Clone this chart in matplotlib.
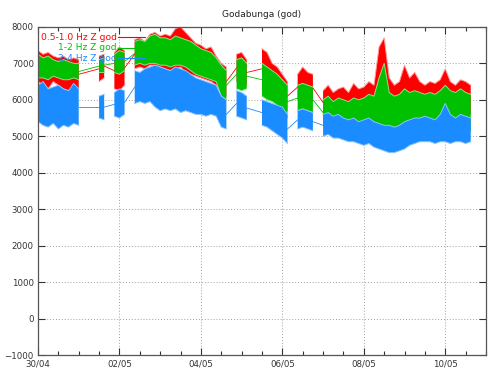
import numpy as np
import matplotlib
matplotlib.use("Agg")
import matplotlib.pyplot as plt

# sample times: days since 30/04 00:00, every 3 hours
step = 0.125
days = np.arange(0, 10.625 + step / 2, step)

N = None
# 0.5-1.0 Hz band (red)
red_hi = [7350, 7250, 7300, 7200, 7150, 7200, 7100, 7150, 7100, N, N, N,
          7200, 7250, N, 7300, 7450, 7350, N,
          7650, 7700, 7600, 7800, 7850, 7750, 7800, 7750, 7950, 8000, 7850, 7700, 7550, 7500, 7400, 7450, 7200, 7000, 6900,
          N, 7250, 7300, 7100, N, N,
          7400, 7300, 7000, 6900, 6700, 6500, N,
          6700, 6900, 6750, 6700, N,
          6250, 6400, 6200, 6300, 6350, 6200, 6450, 6300, 6350, 6500, 6400, 7450, 7700, 6600, 6400,
          6500, 6950, 6600, 6750, 6500, 6400, 6500, 6450, 6550, 6850, 6500, 6400, 6550, 6500, 6400]
red_lo = [6500, 6400, 6300, 6500, 6400, 6300, 6250, 6350, 6300, N, N, N,
          6500, 6600, N, 6300, 6250, 6400, N,
          6850, 6900, 6850, 6950, 6950, 6900, 6850, 6800, 6850, 6900, 6750, 6700, 6650, 6600, 6550, 6500, 6400, 6200, 6100,
          N, 6500, 6450, 6400, N, N,
          6300, 6200, 6100, 6000, 5900, 5700, N,
          6000, 6050, 6000, 5950, N,
          5600, 5650, 5550, 5600, 5550, 5500, 5550, 5500, 5450, 5500, 5450, 5450, 5400, 5350, 5350,
          5400, 5450, 5500, 5500, 5550, 5550, 5600, 5550, 5600, 5600, 5550, 5550, 5600, 5550, 5600]
# 1-2 Hz band (green)
green_hi = [7250, 7150, 7200, 7100, 7050, 7100, 7050, 7000, 7000, N, N, N,
            7100, 7150, N, 7250, 7350, 7300, N,
            7600, 7650, 7600, 7750, 7800, 7700, 7700, 7650, 7750, 7700, 7650, 7600, 7500, 7400, 7350, 7300, 7150, 6950, 6800,
            N, 7100, 7150, 7000, N, N,
            7000, 6900, 6800, 6700, 6550, 6400, N,
            6400, 6450, 6400, 6350, N,
            6000, 6100, 5950, 6050, 6000, 5950, 6050, 6000, 6050, 6150, 6100, 6600, 7000, 6200, 6100,
            6150, 6300, 6200, 6250, 6200, 6150, 6200, 6150, 6250, 6400, 6250, 6200, 6300, 6200, 6150]
green_lo = [6600, 6600, 6550, 6650, 6600, 6550, 6550, 6600, 6550, N, N, N,
            6750, 6750, N, 6750, 6700, 6800, N,
            6950, 7000, 6950, 7000, 7000, 6950, 6950, 6900, 6950, 6950, 6900, 6800, 6700, 6650, 6600, 6550, 6500, 6100, 6000,
            N, 6300, 6250, 6300, N, N,
            6100, 6000, 5950, 5850, 5700, 5500, N,
            5700, 5750, 5700, 5650, N,
            5300, 5350, 5250, 5300, 5200, 5200, 5150, 5100, 5100, 5100, 5050, 5000, 5000, 4950, 4950,
            5000, 5050, 5100, 5100, 5150, 5150, 5200, 5150, 5200, 5200, 5150, 5150, 5200, 5150, 5150]
# 2-4 Hz band (blue)
blue_hi = [6400, 6500, 6300, 6350, 6400, 6300, 6250, 6450, 6300, N, N, N,
           6100, 6150, N, 6200, 6300, 6250, N,
           6800, 6750, 6850, 6900, 6950, 6900, 6850, 6800, 6900, 6850, 6800, 6700, 6600, 6550, 6500, 6450, 6400, 6100, 6000,
           N, 6250, 6200, 6100, N, N,
           6000, 5950, 5900, 5850, 5800, 5600, N,
           5700, 5750, 5700, 5650, N,
           5600, 5650, 5550, 5600, 5500, 5450, 5500, 5400, 5450, 5500, 5400, 5350, 5300, 5300, 5250,
           5300, 5400, 5450, 5500, 5500, 5550, 5500, 5450, 5600, 5900, 5600, 5500, 5600, 5550, 5500]
blue_lo = [5400, 5300, 5250, 5350, 5200, 5300, 5250, 5350, 5300, N, N, N,
           5500, 5450, N, 5550, 5500, 5600, N,
           5900, 5950, 5900, 5950, 5800, 5700, 5750, 5700, 5750, 5650, 5700, 5650, 5600, 5600, 5550, 5600, 5550, 5250, 5200,
           N, 5550, 5500, 5450, N, N,
           5300, 5250, 5150, 5050, 4950, 4800, N,
           5200, 5250, 5200, 5150, N,
           5000, 5050, 4950, 4950, 4900, 4850, 4850, 4800, 4750, 4800, 4700, 4650, 4600, 4550, 4550,
           4600, 4650, 4750, 4800, 4850, 4850, 4850, 4800, 4850, 4850, 4800, 4850, 4850, 4800, 4850]

labels = ["0.5-1.0 Hz Z god", "1-2 Hz Z god", "2-4 Hz Z god"]
colors = ["#ff0000", "#00c000", "#1a8cff"]
halo = ["#ff9a9a", "#8ee08e", "#8cc4ff"]

xtick_pos = [0, 2, 4, 6, 8, 10]
xtick_labels = ["30/04", "02/05", "04/05", "06/05", "08/05", "10/05"]

fig = plt.figure(figsize=(5, 3.75), dpi=100)
ax = fig.add_axes([0.076, 0.0533, 0.896, 0.875])

bands = [(red_lo, red_hi), (green_lo, green_hi), (blue_lo, blue_hi)]
for (lo, hi), c, hc in zip(bands, colors, halo):
    lo = np.array(lo, dtype=float)
    hi = np.array(hi, dtype=float)
    ok = ~np.isnan(lo)
    ax.fill_between(days, lo, hi, where=ok, color=c, lw=0, zorder=2)
    ax.plot(days, hi, color=hc, lw=0.7, zorder=2)
    ax.plot(days, lo, color=hc, lw=0.7, zorder=2)
    # gnuplot joins the last point before a gap to the first one after it
    idx = np.where(ok)[0]
    mid = (lo + hi) / 2
    for a, b in zip(idx[:-1], idx[1:]):
        if b - a > 1:
            ax.plot([days[a], days[b]], [mid[a], mid[b]], color=c, lw=0.6, zorder=2)

ax.set_xlim(0, 11)
ax.set_ylim(-1000, 8000)
ax.set_yticks(np.arange(-1000, 8001, 1000))
ax.set_xticks(xtick_pos)
ax.set_xticklabels(xtick_labels)
ax.set_xticks(np.arange(0, 11.01, 0.5), minor=True)
ax.grid(True, which="major", color="#a0a0a0", linestyle=(0, (1, 2)), lw=0.7)
ax.tick_params(which="both", direction="in", top=True, right=True,
               labelsize=6.2, colors="#333333", pad=3)
ax.tick_params(which="major", length=5, width=0.8)
ax.tick_params(which="minor", length=3, width=0.8)
for s in ax.spines.values():
    s.set_color("#555555")
    s.set_linewidth(0.9)

ax.set_title("Godabunga (god)", fontsize=6.5, color="#222222", pad=7)

# gnuplot style key: text right aligned, sample line to its right
key_y = [0.969, 0.937, 0.905]
for lab, c, y in zip(labels, colors, key_y):
    ax.text(0.176, y, lab, transform=ax.transAxes, ha="right", va="center",
            fontsize=6.6, color=c, zorder=5)
    ax.plot([0.179, 0.239], [y, y], transform=ax.transAxes, color=c, lw=0.8, zorder=5)

fig.savefig("out.png", dpi=100)
